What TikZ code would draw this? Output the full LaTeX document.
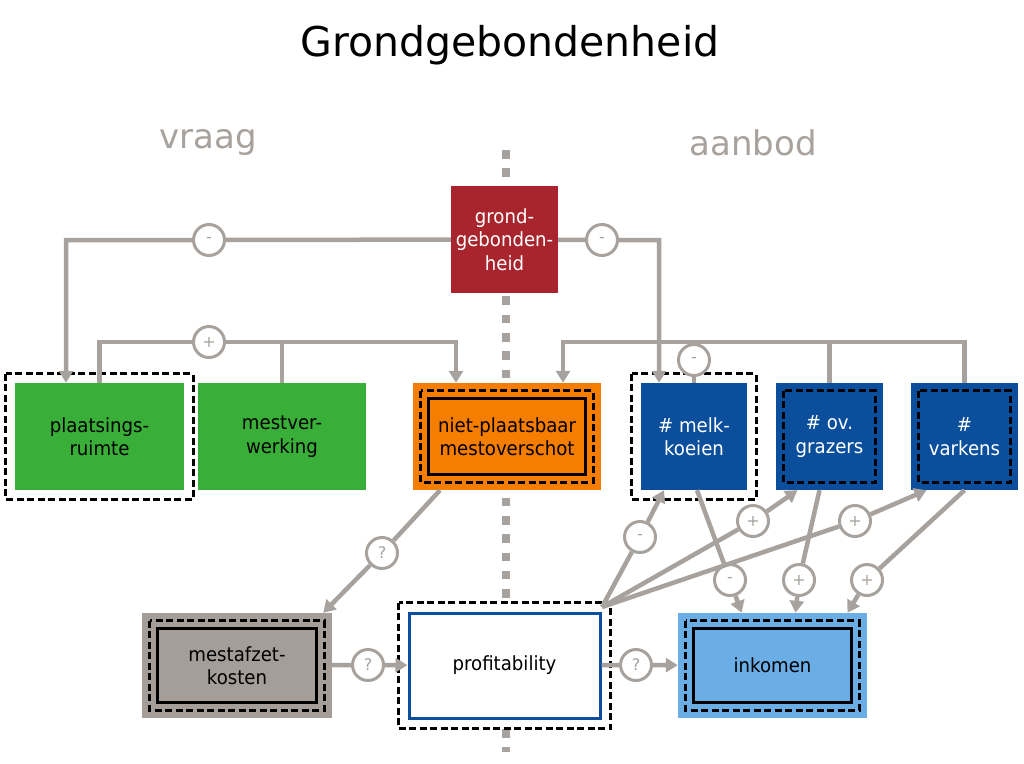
\documentclass[tikz,border=0pt]{standalone}
\usepackage{fontspec}
\setmainfont{DejaVu Sans}
\newfontfamily\smalfont[FakeStretch = 0.93]{DejaVu Sans}
\usepackage{tikz}
\usetikzlibrary{calc}
\usetikzlibrary{arrows.meta}
\definecolor{lijngrijs}{RGB}{167,162,157}
\definecolor{rood}{RGB}{168,37,46}
\definecolor{groen}{RGB}{57,174,57}
\definecolor{oranje}{RGB}{245,125,0}
\definecolor{blauw}{RGB}{11,79,156}
\definecolor{lichtblauw}{RGB}{107,174,230}
\definecolor{grijs}{RGB}{165,158,152}
\tikzset{box/.style = {rectangle, inner sep = 0pt, align = center, minimum width = 107, minimum height = 107, font = \smalfont\fontsize{19.5}{23.5}\selectfont}}
\tikzset{teken/.style = {circle, draw = lijngrijs, line width = 3pt, fill = white, text = lijngrijs, minimum size = 31pt, inner sep = 0pt, font = \fontsize{16}{16}\selectfont}}
\tikzset{lijn/.style = {draw = lijngrijs, line width = 4.5pt}}
\tikzset{pijl/.style = {lijn, -{Triangle[length = 12pt, width = 14pt]}}}
\tikzset{streep/.style = {draw = black, line width = 3pt, dash pattern = on 7pt off 3.5pt}}
\tikzset{kader/.style = {draw = black, line width = 2.8pt}}

\begin{document}
\begin{tikzpicture}[x = 1pt, y = -1pt]
    \useasboundingbox (0, 0) rectangle (1024, 763);
    \node (titel) at (510, 45) {\fontsize{41}{45}\selectfont Grondgebondenheid};
    \node [text = lijngrijs, font = \fontsize{34}{38}\selectfont] (vraag) at (208, 143) {vraag};
    \node [text = lijngrijs, font = \fontsize{34}{38}\selectfont] (aanbod) at (753, 143) {aanbod};
    % scheiding vraag / aanbod
    \draw [lijngrijs, line width = 8.5pt, dash pattern = on 8.5pt off 9.8pt] (506, 150) -- (506, 606);
    \draw [lijngrijs, line width = 8.5pt, dash pattern = on 8.5pt off 9.8pt] (506, 729) -- (506, 752);
    % blokken
    \node [box, fill = rood, text = white] (grond) at (504.5, 239.5) {grond-\\gebonden-\\heid};
    \node [box, fill = groen, minimum width = 169] (plaats) at (99.5, 436.5) {plaatsings-\\ruimte};
    \node [box, fill = groen, minimum width = 168] (mestv) at (282, 436.5) {mestver-\\werking};
    \node [box, fill = oranje, minimum width = 188] (niet) at (507, 436.5) {niet-plaatsbaar\\mestoverschot};
    \node [box, fill = blauw, text = white, minimum width = 106] (melk) at (694, 436.5) {\# melk-\\koeien};
    \node [box, fill = blauw, text = white] (grazers) at (829.5, 436.5) {\# ov.\\grazers};
    \node [box, fill = blauw, text = white] (varkens) at (964.5, 436.5) {\#\\varkens};
    \node [box, fill = grijs, minimum width = 190, minimum height = 105] (afzet) at (237, 665.5) {mestafzet-\\kosten};
    \node [box, fill = white, draw = blauw, line width = 3pt, minimum width = 191, minimum height = 105] (profit) at (504.5, 665.5) {profitability};
    \node [box, fill = lichtblauw, minimum width = 189, minimum height = 105] (inkomen) at (772.5, 665.5) {inkomen};
    \foreach \n in {plaats, melk, profit}
        \draw [streep] ($(\n.north west) + (-9, -9)$) rectangle ($(\n.south east) + (9, 9)$);
    \foreach \n in {niet, grazers, varkens, afzet, inkomen}
        \draw [streep] ($(\n.north west) + (8, 8)$) rectangle ($(\n.south east) + (-8, -8)$);
    \foreach \n in {niet, afzet, inkomen}
        \draw [kader] ($(\n.north west) + (16, 16)$) rectangle ($(\n.south east) + (-16, -16)$);
    % tekens
    \foreach \x/\y/\s/\i in {209/240/-/1, 602/240/-/2, 209/342/+/3, 694/360/-/4, 382/553/?/5, 368/665/?/6, 636/665/?/7, 640/537/-/8, 753/521/+/9, 855/521/+/10, 730/580/-/11, 799/580/+/12, 867/580/+/13}
        \node [teken] (t\i) at (\x, \y) {\s};
    % verbindingen
    \draw [pijl] (grond) -- (t1) -| ([xshift = -33.5]plaats.north);
    \draw [pijl] (grond) -- (t2) -| ([xshift = -35]melk.north);
    \draw [lijn] (plaats.north) |- (t3);
    \draw [pijl] (t3) -| ([xshift = -51]niet.north);
    \draw [lijn] (mestv.north) -- (mestv.north |- t3);
    \draw [pijl] (varkens.north) |- ($(niet.north) + (56, -41)$) -- ($(niet.north) + (56, 0)$);
    \draw [lijn] (grazers.north) -- (grazers.north |- t3);
    \draw [lijn] (melk.north) -- (t4) -- (melk.north |- t3);
    \draw [pijl] ([xshift = -67]niet.south) -- (t5) -- ([xshift = -9]afzet.north east);
    \draw [pijl] (afzet) -- (t6) -- (profit);
    \draw [pijl] (profit) -- (t7) -- (inkomen);
    \coordinate (hub) at (602, 607);
    \draw [pijl] (hub) -- (t8) -- ([xshift = -30]melk.south);
    \draw [pijl] (hub) -- (t9) -- ([xshift = -32]grazers.south);
    \draw [pijl] (hub) -- (t10) -- ([xshift = -38]varkens.south);
    \draw [pijl] ([xshift = 3]melk.south) -- (t11) -- ([xshift = -31]inkomen.north);
    \draw [pijl] ([xshift = -10]grazers.south) -- (t12) -- ([xshift = 23]inkomen.north);
    \draw [pijl] (varkens.south) -- (t13) -- ([xshift = 75]inkomen.north);
\end{tikzpicture}
\end{document}
